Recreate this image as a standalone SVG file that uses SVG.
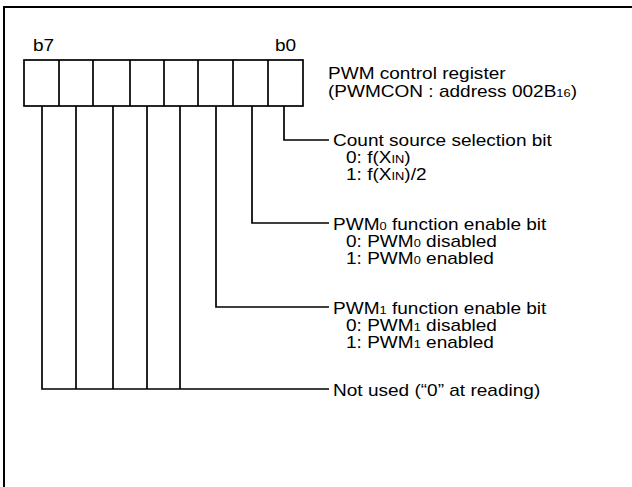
<svg xmlns="http://www.w3.org/2000/svg" width="632" height="487" viewBox="0 0 632 487">
<style>
.ln{fill:none;stroke:#000;stroke-width:1.7}
.fr{fill:none;stroke:#000;stroke-width:2}
.t{font-family:"Liberation Sans",Arial,sans-serif;font-size:17px;fill:#000}
.s{font-size:11.5px}
</style>
<rect width="632" height="487" fill="#fff"/>
<path class="fr" d="M4,487 V7 H632"/>
<g id="register">
<rect class="ln" x="24" y="60" width="279" height="46"/>
<path class="ln" d="M59,60V106M93,60V106M130,60V106M164,60V106M198,60V106M233,60V106M268,60V106"/>
<text class="t" transform="matrix(1.12,0,0,1,33,51)">b7</text>
<text class="t" transform="matrix(1.12,0,0,1,275,51)">b0</text>
<text class="t" transform="matrix(1.12,0,0,1,328,79)">PWM control register</text>
<text class="t" transform="matrix(1.12,0,0,1,328,97)">(PWMCON : address 002B<tspan class="s">16</tspan>)</text>
</g>
<g id="connectors">
<path class="ln" d="M284,106V140H329"/>
<path class="ln" d="M252,106V223H329"/>
<path class="ln" d="M216,106V307H329"/>
<path class="ln" d="M42,106V389H329M76,106V389M113,106V389M147,106V389M180,106V389"/>
</g>
<g id="bit0">
<text class="t" transform="matrix(1.12,0,0,1,333,146)">Count source selection bit</text>
<text class="t" transform="matrix(1.12,0,0,1,346,163)">0: f(X<tspan class="s">IN</tspan>)</text>
<text class="t" transform="matrix(1.12,0,0,1,346,180)">1: f(X<tspan class="s">IN</tspan>)/2</text>
</g>
<g id="bit1">
<text class="t" transform="matrix(1.12,0,0,1,333,230)">PWM<tspan class="s">0</tspan> function enable bit</text>
<text class="t" transform="matrix(1.12,0,0,1,346,247)">0: PWM<tspan class="s">0</tspan> disabled</text>
<text class="t" transform="matrix(1.12,0,0,1,346,264)">1: PWM<tspan class="s">0</tspan> enabled</text>
</g>
<g id="bit2">
<text class="t" transform="matrix(1.12,0,0,1,333,314)">PWM<tspan class="s">1</tspan> function enable bit</text>
<text class="t" transform="matrix(1.12,0,0,1,346,331)">0: PWM<tspan class="s">1</tspan> disabled</text>
<text class="t" transform="matrix(1.12,0,0,1,346,348)">1: PWM<tspan class="s">1</tspan> enabled</text>
</g>
<g id="bits3to7">
<text class="t" transform="matrix(1.12,0,0,1,333,396)">Not used (“0” at reading)</text>
</g>
</svg>
